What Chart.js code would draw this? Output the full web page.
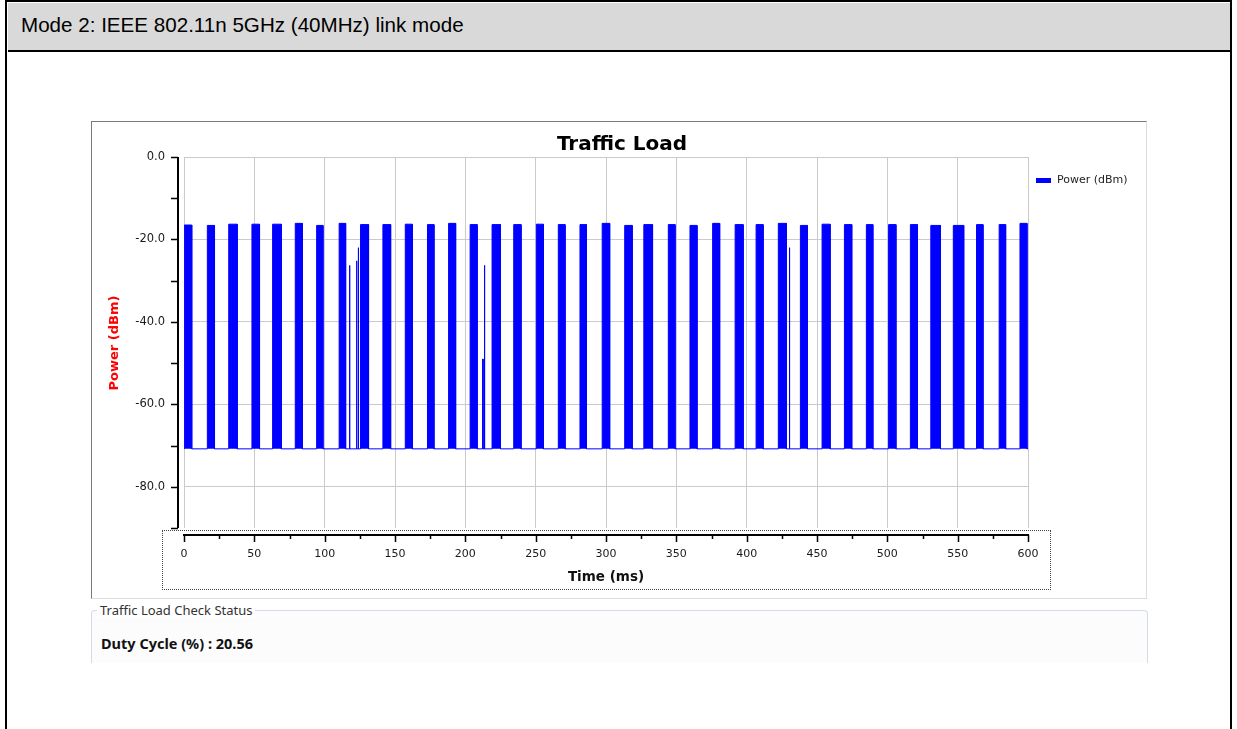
<!DOCTYPE html>
<html>
<head>
<meta charset="utf-8">
<script src="https://cdn.jsdelivr.net/npm/chart.js@4.4.0/dist/chart.umd.min.js"></script>
<style>
  body { margin: 0; width: 1237px; height: 729px; background: #fff; position: relative; overflow: hidden; font-family: "DejaVu Sans", sans-serif; }
  .abs { position: absolute; }
  #frame { left: 5px; top: 0; width: 1227px; height: 760px; border: 2.5px solid #000; border-bottom: none; box-sizing: border-box; }
  #head { left: 7.5px; top: 2.5px; width: 1222px; height: 47px; background: #d9d9d9; border-bottom: 2.5px solid #000; }
  #headText { left: 21px; top: 12px; font: 20.6px "Liberation Sans", Arial, sans-serif; line-height: 26px; color: #000; white-space: nowrap; }
  #panel { left: 91px; top: 121px; width: 1056px; height: 478px; box-sizing: border-box; border: 1px solid #dcdcdc; border-left-color: #7a7a7a; border-top-color: #7a7a7a; background: #fff; }
  #xbox { left: 162px; top: 530px; width: 889px; height: 60px; box-sizing: border-box; border: 1px dotted #444; }
  #wrap { left: 92px; top: 123px; width: 1053px; height: 474px; }
  #title { left: 472px; top: 131px; width: 300px; text-align: center; font: bold 20px "DejaVu Sans"; line-height: 24px; color: #000; }
  #legRect { left: 1036px; top: 178px; width: 15px; height: 5px; background: #0000ff; }
  #legText { left: 1057px; top: 173px; font: 11px "DejaVu Sans"; line-height: 14px; color: #222; white-space: nowrap; }
  #yTitle { left: 54px; top: 335px; width: 120px; height: 16px; line-height: 16px; text-align: center; transform: rotate(-90deg); font: bold 13px "DejaVu Sans"; color: #ff0000; white-space: nowrap; }
  #xTitle { left: 506px; top: 567px; width: 200px; text-align: center; font: bold 13.5px "DejaVu Sans"; line-height: 18px; color: #111; }
  #group { left: 91px; top: 610px; width: 1057px; height: 53px; box-sizing: border-box; border: 1px solid #d3dce6; border-bottom: none; border-radius: 4px 4px 0 0; background: #fcfcfd; }
  #groupLabel { left: 97px; top: 602px; padding: 0 3px; background: #fff; font: 13px "Noto Sans"; line-height: 16px; color: #333; white-space: nowrap; }
  #duty { left: 101px; top: 634px; font: bold 14.5px "Noto Sans"; line-height: 18px; color: #111; white-space: nowrap; }
</style>
</head>
<body>
<div id="frame" class="abs"></div>
<div id="head" class="abs"></div>
<div id="headText" class="abs">Mode 2: IEEE 802.11n 5GHz (40MHz) link mode</div>
<div id="panel" class="abs"></div>
<div id="xbox" class="abs"></div>
<div id="wrap" class="abs"><canvas id="trafficChart"></canvas></div>
<div id="title" class="abs">Traffic Load</div>
<div id="legRect" class="abs"></div>
<div id="legText" class="abs">Power (dBm)</div>
<div id="yTitle" class="abs">Power (dBm)</div>
<div id="xTitle" class="abs">Time (ms)</div>
<div id="group" class="abs"></div>
<div id="groupLabel" class="abs">Traffic Load Check Status</div>
<div id="duty" class="abs">Duty Cycle (%) : 20.56</div>

<script>
// burst on/off times (ms) and top level (dBm)
const burstStart = [0.2, 16.6, 31.8, 48.3, 63.0, 79.1, 94.3, 110.3, 125.5, 141.4, 157.3, 173.1, 188.1,
  203.4, 219.0, 234.4, 250.5, 266.1, 281.5, 297.3, 313.3, 326.9, 344.3, 359.7, 375.8, 391.8,
  406.7, 422.5, 438.2, 453.6, 469.5, 485.1, 500.9, 516.4, 530.9, 546.9, 563.4, 579.5, 594.3];
const burstEnd = [5.5, 21.7, 37.8, 53.7, 69.2, 84.1, 98.8, 114.9, 131.2, 146.9, 162.3, 177.7, 193.1,
  208.4, 225.0, 239.6, 255.5, 270.9, 286.1, 302.6, 318.6, 333.1, 349.1, 364.7, 380.8, 397.5,
  411.7, 428.2, 443.2, 459.3, 474.7, 489.7, 506.1, 521.4, 537.8, 554.3, 568.0, 584.1, 599.3];
const burstPeak = [-16.5, -16.6, -16.3, -16.3, -16.3, -16.1, -16.6, -16.1, -16.4, -16.4, -16.3, -16.4, -16.1,
  -16.4, -16.4, -16.4, -16.3, -16.4, -16.4, -16.1, -16.6, -16.4, -16.4, -16.6, -16.1, -16.4,
  -16.4, -16.1, -16.6, -16.3, -16.4, -16.4, -16.4, -16.4, -16.6, -16.6, -16.4, -16.4, -16.1];
// isolated short spikes between bursts
const spikeTime = [117.6, 122.6, 123.8, 212.3, 213.5, 430.3];
const spikeLevel = [-26.3, -25.2, -22.0, -49.0, -26.3, -22.0];
const floorLevel = -70.8;

const xTickValues = [0, 50, 100, 150, 200, 250, 300, 350, 400, 450, 500, 550, 600];
const yTickValues = [0, -20, -40, -60, -80];
const xMinorTicks = [25, 75, 125, 175, 225, 275, 325, 375, 425, 475, 525, 575];
const yMinorTicks = [-10, -30, -50, -70, -90];

const segs = [];
burstStart.forEach((s, i) => segs.push([s, burstEnd[i], burstPeak[i]]));
spikeTime.forEach((t, i) => segs.push([t, t + 0.3, spikeLevel[i]]));
segs.sort((a, b) => a[0] - b[0]);

const points = [{ x: 0, y: floorLevel }];
segs.forEach(([s, e, p]) => {
  points.push({ x: s, y: floorLevel }, { x: s, y: p }, { x: e, y: p }, { x: e, y: floorLevel });
});
points.push({ x: 600, y: floorLevel });

// black axis lines sit a little outside the plot area
const axisLines = {
  id: 'axisLines',
  afterDraw(chart) {
    const { ctx, chartArea: a, scales: { x, y } } = chart;
    ctx.save();
    ctx.strokeStyle = '#000';
    const ax = Math.round(a.left) - 6;
    const ay = Math.round(a.bottom) + 7;
    ctx.lineWidth = 2;
    ctx.beginPath();
    ctx.moveTo(ax, a.top); ctx.lineTo(ax, a.bottom);
    ctx.moveTo(a.left - 1, ay); ctx.lineTo(a.right + 1, ay);
    ctx.stroke();
    ctx.lineWidth = 1.5;
    ctx.beginPath();
    yTickValues.concat(yMinorTicks).forEach(v => {
      const py = Math.round(y.getPixelForValue(v)) + 0.5;
      ctx.moveTo(ax - 7, py); ctx.lineTo(ax, py);
    });
    xTickValues.forEach(v => {
      const px = Math.round(x.getPixelForValue(v)) + 0.5;
      ctx.moveTo(px, ay); ctx.lineTo(px, ay + 7);
    });
    xMinorTicks.forEach(v => {
      const px = Math.round(x.getPixelForValue(v)) + 0.5;
      ctx.moveTo(px, ay); ctx.lineTo(px, ay + 4);
    });
    ctx.stroke();
    ctx.restore();
  }
};

const ctx = document.getElementById('trafficChart').getContext('2d');
new Chart(ctx, {
  type: 'line',
  data: {
    datasets: [{
      label: 'Power (dBm)',
      data: points,
      borderColor: '#0000ff',
      backgroundColor: '#0000ff',
      borderWidth: 1,
      pointRadius: 0,
      tension: 0,
      fill: { value: floorLevel }
    }]
  },
  options: {
    responsive: true,
    maintainAspectRatio: false,
    animation: false,
    devicePixelRatio: 1,
    layout: { padding: { left: 0, top: 34, right: 117, bottom: 0 } },
    plugins: {
      legend: { display: false },
      tooltip: { enabled: false },
      title: { display: false }
    },
    scales: {
      x: {
        type: 'linear',
        min: 0,
        max: 600,
        afterBuildTicks: s => { s.ticks = xTickValues.map(v => ({ value: v })); },
        afterFit: s => { s.height = 69; },
        grid: { color: '#cacaca', drawTicks: false },
        border: { display: false },
        ticks: {
          padding: 20,
          autoSkip: false,
          maxRotation: 0,
          color: '#1a1a1a',
          font: { family: 'DejaVu Sans', size: 11 },
          callback: v => String(v)
        }
      },
      y: {
        min: -90,
        max: 0,
        afterBuildTicks: s => { s.ticks = yTickValues.map(v => ({ value: v })); },
        afterFit: s => { s.width = 92; },
        grid: { color: '#cacaca', drawTicks: false },
        border: { display: false },
        ticks: {
          padding: 19,
          color: '#1a1a1a',
          font: { family: 'DejaVu Sans', size: 11.5 },
          callback: v => Number(v).toFixed(1)
        }
      }
    }
  },
  plugins: [axisLines]
});
</script>
</body>
</html>
